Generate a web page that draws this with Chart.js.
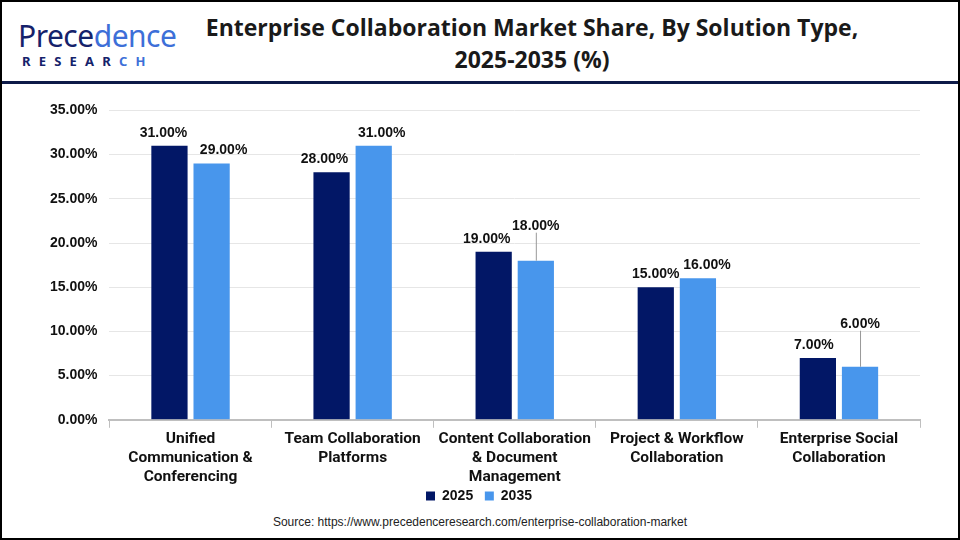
<!DOCTYPE html>
<html>
<head>
<meta charset="utf-8">
<script src="https://cdn.jsdelivr.net/npm/chart.js@4.4.0/dist/chart.umd.min.js"></script>
<style>
  body { margin: 0; background: #fff; }
  #frame { position: relative; width: 956px; height: 536px; border: 2px solid #000; overflow: hidden; font-family: "Liberation Sans", Arial, sans-serif; }
  #logo { position: absolute; left: 16px; top: 18px; color: #15226b; }
  #logo .big { font-family: "Noto Sans", sans-serif; font-size: 30px; line-height: 32px; letter-spacing: -0.5px; }
  #logo .big span { color: #3d6fd8; }
  #logo .small { font-family: "Noto Sans", sans-serif; font-weight: bold; font-size: 13px; letter-spacing: 8.2px; margin-left: 4px; }
  #logo .small span { color: #3d6fd8; }
  #title { position: absolute; left: 100px; width: 860px; top: 9px; text-align: center; font-family: "Open Sans", sans-serif; font-weight: bold; font-size: 23px; line-height: 32px; color: #1a1a1a; }
  #rule { position: absolute; left: 0; top: 79px; width: 956px; height: 3px; background: #0d1a48; }
  #wrap { position: absolute; left: 0; top: 88px; width: 956px; height: 423px; }
  #source { position: absolute; left: 0; width: 956px; top: 513px; text-align: center; font-size: 12px; color: #222; }
</style>
</head>
<body>
<div id="frame">
  <div id="logo">
    <div class="big">Prece<span>dence</span></div>
    <div class="small">RESEAR<span>CH</span></div>
  </div>
  <div id="title">Enterprise Collaboration Market Share, By Solution Type,<br>2025-2035 (%)</div>
  <div id="rule"></div>
  <div id="wrap"><canvas id="GraficoMercado"></canvas></div>
  <div id="source">Source: https://www.precedenceresearch.com/enterprise-collaboration-market</div>
</div>
<script>
const categorias = [
  ["Unified", "Communication &", "Conferencing"],
  ["Team Collaboration", "Platforms"],
  ["Content Collaboration", "& Document", "Management"],
  ["Project & Workflow", "Collaboration"],
  ["Enterprise Social", "Collaboration"]
];
const valores2025 = [31, 28, 19, 15, 7];
const valores2035 = [29, 31, 18, 16, 6];
const tickLabelsY = ["0.00%", "5.00%", "10.00%", "15.00%", "20.00%", "25.00%", "30.00%", "35.00%"];

// small nudges for the value labels [dx, dy] (dy < 0 => raised with a leader line)
const ajusteRotulos = [
  [[-6, 0], [-7, 0], [-7, 0], [0, 0], [-4, 0]],
  [[12, 0], [8, 0], [0, -22], [9, 0], [0, -30]]
];

const rotulosPlugin = {
  id: "rotulos",
  afterDatasetsDraw(chart) {
    const ctx = chart.ctx;
    ctx.save();
    ctx.font = "bold 14px 'Liberation Sans', Arial, sans-serif";
    ctx.fillStyle = "#111";
    ctx.textAlign = "center";
    ctx.textBaseline = "bottom";
    chart.data.datasets.forEach((ds, i) => {
      chart.getDatasetMeta(i).data.forEach((bar, j) => {
        const [dx, dy] = ajusteRotulos[i][j];
        const x = bar.x + dx;
        const y = bar.y - 4 + dy;
        if (dy < 0) {
          ctx.strokeStyle = "#999";
          ctx.lineWidth = 1;
          ctx.beginPath();
          ctx.moveTo(bar.x + 0.5, bar.y);
          ctx.lineTo(bar.x + 0.5, y - 2);
          ctx.stroke();
        }
        ctx.fillText(ds.data[j].toFixed(2) + "%", x, y - 2);
      });
    });
    ctx.restore();
  }
};

new Chart(document.getElementById("GraficoMercado"), {
  type: "bar",
  data: {
    labels: categorias,
    datasets: [
      {
        label: "2025",
        data: valores2025,
        backgroundColor: "#021766",
        categoryPercentage: 0.52,
        barPercentage: 0.86
      },
      {
        label: "2035",
        data: valores2035,
        backgroundColor: "#4896ec",
        categoryPercentage: 0.52,
        barPercentage: 0.86
      }
    ]
  },
  plugins: [rotulosPlugin],
  options: {
    responsive: true,
    maintainAspectRatio: false,
    animation: false,
    layout: { padding: { top: 11, right: 38, left: 36, bottom: 0 } },
    scales: {
      y: {
        min: 0,
        max: 35,
        ticks: {
          stepSize: 5,
          padding: 12,
          color: "#111",
          font: { family: "'Liberation Sans', Arial, sans-serif", size: 14, weight: "bold" },
          callback: (v, i) => tickLabelsY[i]
        },
        grid: { color: "#e6e6e6", drawTicks: false },
        border: { display: false }
      },
      x: {
        ticks: {
          color: "#111",
          padding: 2,
          maxRotation: 0,
          autoSkip: false,
          font: { family: "Roboto, sans-serif", size: 15.5, weight: "bold", lineHeight: 1.23 }
        },
        grid: { offset: true, drawOnChartArea: false, tickLength: 8, color: "#bfbfbf" },
        border: { display: true, color: "#bfbfbf", width: 2 }
      }
    },
    plugins: {
      legend: {
        position: "bottom",
        labels: {
          boxWidth: 9,
          boxHeight: 9,
          padding: 0,
          color: "#111",
          font: { family: "'Liberation Sans', Arial, sans-serif", size: 14, weight: "bold" },
          generateLabels(chart) {
            const items = Chart.defaults.plugins.legend.labels.generateLabels(chart);
            items.forEach((it, k) => { if (k < items.length - 1) it.text = it.text + "   "; });
            return items;
          }
        }
      },
      tooltip: { enabled: false }
    }
  }
});
</script>
</body>
</html>
